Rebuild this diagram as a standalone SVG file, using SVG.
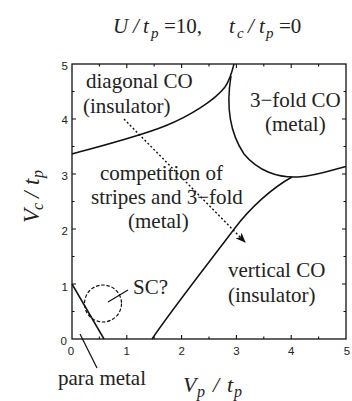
<svg xmlns="http://www.w3.org/2000/svg" width="352" height="401" viewBox="0 0 352 401">
<style>
.lbl{font-family:"Liberation Serif","Times New Roman",serif;font-size:21px;fill:#222}
.it{font-family:"Liberation Serif","Times New Roman",serif;font-style:italic;fill:#222}
.up{font-family:"Liberation Serif","Times New Roman",serif;fill:#222}
.tick{font-family:"Liberation Sans",Arial,sans-serif;font-size:11.5px;fill:#222}
.frame{fill:none;stroke:#111;stroke-width:1.3}
.tk{stroke:#111;stroke-width:1.1}
.bd{fill:none;stroke:#111;stroke-width:1.5}
.thin{fill:none;stroke:#111;stroke-width:1.2}
</style>
<defs>
<marker id="ah" markerWidth="10" markerHeight="8" refX="9" refY="4" orient="auto" markerUnits="userSpaceOnUse">
<path d="M0,0 L10,4 L0,8 L2.5,4 Z" fill="#111"/>
</marker>
</defs>
<rect width="352" height="401" fill="#fff"/>

<g id="title">
<text class="it" font-size="21" x="113" y="33">U</text>
<text class="it" font-size="21" x="133" y="33">/</text>
<text class="it" font-size="21" x="143" y="33">t</text>
<text class="it" font-size="15" x="151" y="38">p</text>
<text class="up" font-size="21" x="164" y="33">=10,</text>
<text class="it" font-size="21" x="229" y="33">t</text>
<text class="it" font-size="15" x="237" y="38">c</text>
<text class="it" font-size="21" x="248" y="33">/</text>
<text class="it" font-size="21" x="259" y="33">t</text>
<text class="it" font-size="15" x="266" y="38">p</text>
<text class="up" font-size="21" x="279" y="33">=0</text>
</g>

<g id="axes">
<rect class="frame" x="72" y="64" width="274" height="275"/>
<path class="tk" d="M126.8,339v-4M181.6,339v-4M236.4,339v-4M291.2,339v-4M99.4,339v-2.5M154.2,339v-2.5M209,339v-2.5M263.8,339v-2.5M318.6,339v-2.5
M126.8,64v4M181.6,64v4M236.4,64v4M291.2,64v4M99.4,64v2.5M154.2,64v2.5M209,64v2.5M263.8,64v2.5M318.6,64v2.5
M72,284h4M72,229h4M72,174h4M72,119h4M72,311.5h2.5M72,256.5h2.5M72,201.5h2.5M72,146.5h2.5M72,91.5h2.5
M346,284h-4M346,229h-4M346,174h-4M346,119h-4M346,311.5h-2.5M346,256.5h-2.5M346,201.5h-2.5M346,146.5h-2.5M346,91.5h-2.5"/>
<text class="tick" x="68" y="70" text-anchor="end">5</text>
<text class="tick" x="68" y="124" text-anchor="end">4</text>
<text class="tick" x="68" y="180" text-anchor="end">3</text>
<text class="tick" x="68" y="235" text-anchor="end">2</text>
<text class="tick" x="68" y="291" text-anchor="end">1</text>
<text class="tick" x="67" y="345" text-anchor="end">0</text>
<text class="tick" x="71" y="355" text-anchor="middle">0</text>
<text class="tick" x="126.8" y="355" text-anchor="middle">1</text>
<text class="tick" x="181.6" y="355" text-anchor="middle">2</text>
<text class="tick" x="236.4" y="355" text-anchor="middle">3</text>
<text class="tick" x="291.2" y="355" text-anchor="middle">4</text>
<text class="tick" x="347" y="355" text-anchor="middle">5</text>
</g>

<g id="xlabel">
<text class="it" font-size="22" x="183" y="392">V</text>
<text class="it" font-size="16" x="197" y="397">p</text>
<text class="it" font-size="22" x="213" y="392">/</text>
<text class="it" font-size="22" x="227" y="392">t</text>
<text class="it" font-size="16" x="234" y="397">p</text>
</g>

<g id="ylabel" transform="translate(39,223) rotate(-90)">
<text class="it" font-size="23" x="0" y="0">V</text>
<text class="it" font-size="16" x="13" y="4">c</text>
<text class="it" font-size="23" x="25" y="0">/</text>
<text class="it" font-size="23" x="38" y="0">t</text>
<text class="it" font-size="16" x="45" y="4">p</text>
</g>

<g id="connectors">
<path id="diag-boundary" class="bd" d="M72,154 C105,145 140,136 165,126 C190,116 215,100 225,87 C230,80 232,72 234,64"/>
<path id="threefold-boundary" class="bd" d="M231,76 C227,100 228,130 244,154 C258,171 278,178 298,177 C316,176 332,170 346,166.5"/>
<path id="vertical-boundary" class="bd" d="M292,177 C272,188 250,208 235,228 C210,261 170,312 152,339"/>
<path id="para-boundary" class="bd" d="M72,284 L104,339"/>
<path id="para-leader" class="thin" d="M80,334 L97,368"/>
<circle id="sc-circle" cx="103" cy="303.5" r="18.5" fill="none" stroke="#111" stroke-width="1.2" stroke-dasharray="3.5,1.8"/>
<path id="sc-leader" class="thin" d="M108,302 L128,290"/>
<path id="arrow" fill="none" stroke="#111" stroke-width="1.4" stroke-dasharray="2,2.2" d="M124,119 L245,242" marker-end="url(#ah)"/>
</g>

<g id="diagonal-CO">
<text class="lbl" x="86" y="88">diagonal CO</text>
<text class="lbl" x="83" y="113">(insulator)</text>
</g>
<g id="threefold-CO">
<text class="lbl" x="250" y="107">3−fold CO</text>
<text class="lbl" x="265" y="131">(metal)</text>
</g>
<g id="competition">
<text class="lbl" x="100" y="180">competition of</text>
<text class="lbl" x="91" y="204">stripes and 3−fold</text>
<text class="lbl" x="128" y="228">(metal)</text>
</g>
<g id="vertical-CO">
<text class="lbl" x="228" y="277">vertical CO</text>
<text class="lbl" x="228" y="302">(insulator)</text>
</g>
<g id="SC">
<text class="lbl" x="133" y="294">SC?</text>
</g>
<g id="para-metal">
<text class="lbl" x="58" y="385">para metal</text>
</g>
</svg>
